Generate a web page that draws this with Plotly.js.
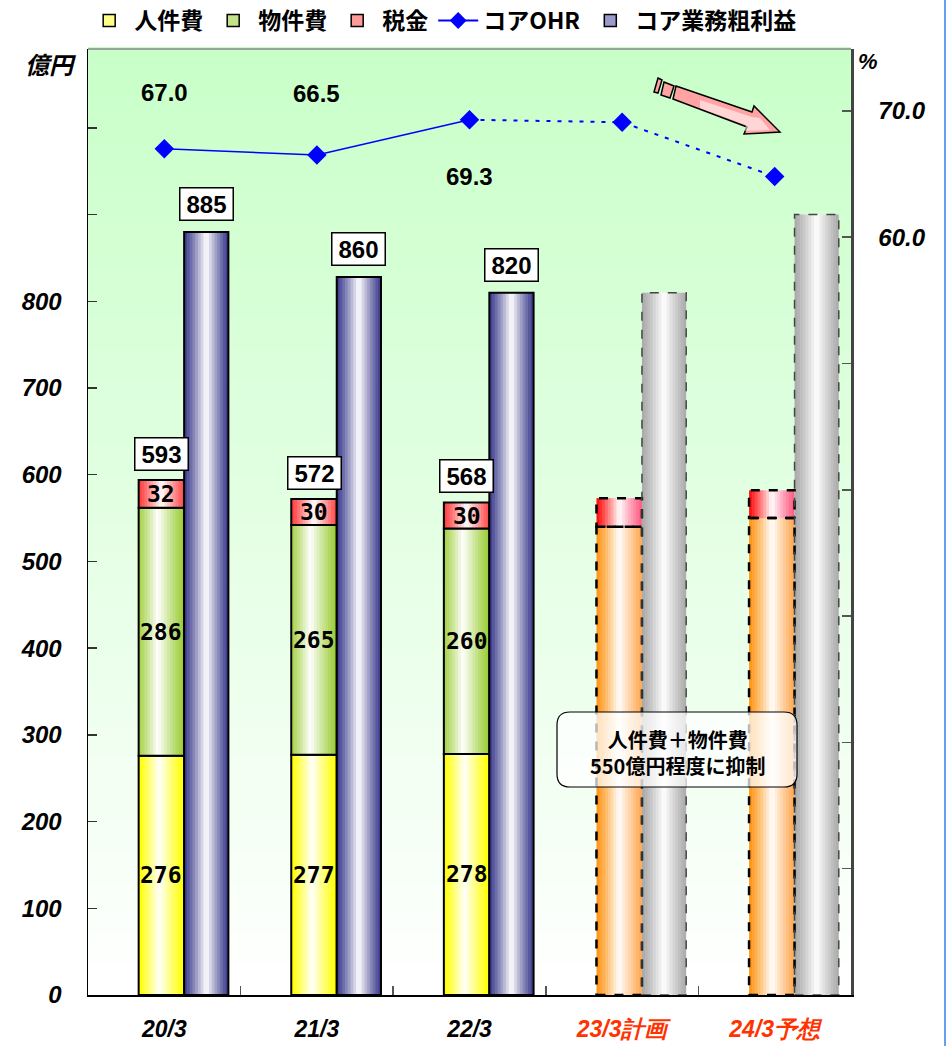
<!DOCTYPE html>
<html>
<head>
<meta charset="utf-8">
<script src="https://cdn.plot.ly/plotly-3.0.1.min.js"></script>
<style>
  html, body { margin: 0; padding: 0; background: #ffffff; }
  #chart { width: 947px; height: 1046px; }
</style>
</head>
<body>
<div id="chart"></div>
<script>
// ---------------- DATA ----------------
const categories = ['20/3', '21/3', '22/3', '23/3計画', '24/3予想'];
const personnel = [276, 277, 278, null, null];          // 人件費
const goods = [286, 265, 260, null, null];              // 物件費
const planCost = [null, null, null, 540, 550];          // 人件費＋物件費 (plan)
const tax = [32, 30, 30, 33, 32];                       // 税金
const totalLabel = [593, 572, 568, null, null];         // 経費合計
const coreGross = [880, 828, 810, 810, 900];            // コア業務粗利益 (bar heights as drawn)
const coreGrossLabel = [885, 860, 820, null, null];     // コア業務粗利益 (labels)
const ohr = [67.0, 66.5, 69.3, 69.1, 64.8];             // コアOHR (%)
const ohrLabel = ['67.0', '66.5', '69.3', null, null];
const leftTickVals = [0, 100, 200, 300, 400, 500, 600, 700, 800, 900, 1000];
const leftTickText = ['0', '100', '200', '300', '400', '500', '600', '700', '800', '', ''];
const rightTickVals = [0, 10, 20, 30, 40, 50, 60, 70];
const rightTickText = ['', '', '', '', '', '', '60.0', '70.0'];
const noteText = '人件費＋物件費<br>550億円程度に抑制';
const unitLeft = '億円';
const unitRight = '%';

// ---------------- STYLE / LAYOUT HELPERS ----------------
const W = 947, H = 1046;
const M = { l: 88, r: 96, t: 49, b: 51, autoexpand: false };
const plotW = W - M.l - M.r, plotH = H - M.t - M.b;
const px2x = p => (p - M.l) / plotW;
const px2y = p => (H - M.b - p) / plotH;

const LEFT_OFF = -0.168, LEFT_W = 0.298;
const RIGHT_OFF = 0.130, RIGHT_W = 0.290;
const N = 16;

function hex2rgb(h) {
  h = h.replace('#', '');
  return [parseInt(h.substr(0, 2), 16), parseInt(h.substr(2, 2), 16), parseInt(h.substr(4, 2), 16)];
}
function mix(c, w) { // mix colour c with white by weight w
  const a = hex2rgb(c);
  return 'rgb(' + a.map(v => Math.round(v + (255 - v) * w)).join(',') + ')';
}
function sliceColor(left, right, tc, t) {
  let u, edge;
  if (t < tc) { edge = left; u = (tc - t) / tc; } else { edge = right; u = (t - tc) / (1 - tc); }
  const w = Math.pow(Math.max(0, 1 - u), 1.15);
  return mix(edge, w);
}

const traces = [];
function gradientBars(vals, base, leftCols, rightCols, tc, off, wid) {
  for (let i = 0; i < N; i++) {
    const t = (i + 0.5) / N;
    traces.push({
      type: 'bar', x: categories, y: vals, base: base,
      offset: off + i * wid / N,
      width: i < N - 1 ? wid / N * 1.3 : wid / N,
      marker: { color: categories.map((c, k) => sliceColor(leftCols[k], rightCols[k], tc, t)), line: { width: 0 } },
      showlegend: false, hoverinfo: 'skip'
    });
  }
}
function outline(vals, base, off, wid, lineCols) {
  traces.push({
    type: 'bar', x: categories, y: vals, base: base, offset: off, width: wid,
    marker: { color: 'rgba(0,0,0,0)', line: { color: lineCols, width: 2 } },
    showlegend: false, hoverinfo: 'skip'
  });
}

const goodsBase = personnel;
const taxBase = categories.map((c, i) => personnel[i] != null ? personnel[i] + goods[i] : planCost[i]);
const pastLine = categories.map((c, i) => personnel[i] != null ? '#000000' : 'rgba(0,0,0,0)');

// 人件費
gradientBars(personnel, null, categories.map(() => '#ffff00'), categories.map(() => '#ffff00'), 0.45, LEFT_OFF, LEFT_W);
outline(personnel, null, LEFT_OFF, LEFT_W, pastLine);
// 物件費
gradientBars(goods, goodsBase, categories.map(() => '#a6d24a'), categories.map(() => '#99cc33'), 0.42, LEFT_OFF, LEFT_W);
outline(goods, goodsBase, LEFT_OFF, LEFT_W, pastLine);
// plan 人件費＋物件費
gradientBars(planCost, null, categories.map(() => '#ff9412'), categories.map(() => '#ffa852'), 0.5, LEFT_OFF, LEFT_W);
// 税金
gradientBars(tax, taxBase, categories.map((c, i) => i < 3 ? '#ff3a3a' : '#ff0a0a'), categories.map((c, i) => i < 3 ? '#ff4a4a' : '#ff5a80'), 0.5, LEFT_OFF, LEFT_W);
outline(tax, taxBase, LEFT_OFF, LEFT_W, pastLine);
// コア業務粗利益
gradientBars(coreGross, null, categories.map((c, i) => i < 3 ? '#3a3a8c' : '#a8a8a8'), categories.map((c, i) => i < 3 ? '#3a3a8c' : '#aaaaaa'), 0.5, RIGHT_OFF, RIGHT_W);
outline(coreGross, null, RIGHT_OFF, RIGHT_W, pastLine);

// OHR line
const actualIdx = [0, 1, 2], planIdx = [2, 3, 4];
traces.push({
  type: 'scatter', mode: 'lines', x: planIdx.map(i => categories[i]), y: planIdx.map(i => ohr[i]), yaxis: 'y2',
  line: { color: '#0000ff', width: 2, dash: '4px,7px' }, showlegend: false, hoverinfo: 'skip'
});
traces.push({
  type: 'scatter', mode: 'lines', x: actualIdx.map(i => categories[i]), y: actualIdx.map(i => ohr[i]), yaxis: 'y2',
  line: { color: '#0000ff', width: 1.5 }, showlegend: false, hoverinfo: 'skip'
});
traces.push({
  type: 'scatter', mode: 'markers', x: categories, y: ohr, yaxis: 'y2',
  marker: { symbol: 'diamond', size: 15, color: '#0000ff' }, showlegend: false
});

// legend entries
const legendItems = [
  { name: '人件費', color: '#ffff88', rank: 1 },
  { name: '物件費', color: '#c4e28a', rank: 2 },
  { name: '税金', color: '#ff9a9a', rank: 3 },
  { name: 'コア業務粗利益', color: '#9a9acc', rank: 5 }
];
legendItems.forEach(it => traces.push({
  type: 'bar', x: [null], y: [null], name: it.name, legendrank: it.rank,
  marker: { color: it.color, line: { color: '#000', width: 1.5 } }
}));
traces.push({
  type: 'scatter', mode: 'lines+markers', x: [null], y: [null], yaxis: 'y2', name: 'コアOHR', legendrank: 4,
  line: { color: '#0000ff', width: 2 }, marker: { symbol: 'diamond', size: 13, color: '#0000ff' }
});

// ---------------- SHAPES ----------------
const shapes = [];
const STRIPS = 60;
for (let s = 0; s < STRIPS; s++) {
  const whiteW = 1 - (s + 0.5) / STRIPS; // s=0 bottom -> nearly white
  shapes.push({
    type: 'rect', xref: 'paper', yref: 'paper', x0: 0, x1: 1,
    y0: s / STRIPS, y1: (s + 1) / STRIPS + 0.002, layer: 'below',
    line: { width: 0 }, fillcolor: mix('#c8ffc8', whiteW)
  });
}
// top border
shapes.push({ type: 'line', xref: 'paper', yref: 'paper', x0: 0, x1: 1, y0: 1, y1: 1, line: { color: '#888', width: 1.5 } });
// right figure edge line
shapes.push({ type: 'line', xref: 'paper', yref: 'paper', x0: px2x(945), x1: px2x(945), y0: px2y(0), y1: px2y(H), line: { color: '#6a9cf0', width: 2 } });

// plan dashed outlines
categories.forEach((c, i) => {
  if (planCost[i] == null) return;
  shapes.push({ type: 'rect', xref: 'x', yref: 'y', x0: i + LEFT_OFF, x1: i + LEFT_OFF + LEFT_W, y0: 0, y1: planCost[i],
    line: { color: '#000', width: 2.5, dash: 'dash' } });
  shapes.push({ type: 'rect', xref: 'x', yref: 'y', x0: i + LEFT_OFF, x1: i + LEFT_OFF + LEFT_W, y0: planCost[i], y1: planCost[i] + tax[i],
    line: { color: '#000', width: 2.5, dash: 'dash' } });
  shapes.push({ type: 'rect', xref: 'x', yref: 'y', x0: i + RIGHT_OFF, x1: i + RIGHT_OFF + RIGHT_W, y0: 0, y1: coreGross[i],
    line: { color: '#444', width: 1.5, dash: 'dash' } });
});

// rounded note box
(function () {
  const x0 = px2x(557), x1 = px2x(797), y0 = px2y(787), y1 = px2y(712);
  const rx = 13 / plotW, ry = 13 / plotH;
  const p = `M ${x0 + rx},${y1} L ${x1 - rx},${y1} Q ${x1},${y1} ${x1},${y1 - ry} L ${x1},${y0 + ry} Q ${x1},${y0} ${x1 - rx},${y0} ` +
            `L ${x0 + rx},${y0} Q ${x0},${y0} ${x0},${y0 + ry} L ${x0},${y1 - ry} Q ${x0},${y1} ${x0 + rx},${y1} Z`;
  shapes.push({ type: 'path', xref: 'paper', yref: 'paper', path: p, fillcolor: 'rgba(255,255,255,0.72)', line: { color: '#000', width: 1.2 } });
})();

// decorative arrow
function poly(pts) {
  return 'M ' + pts.map(p => px2x(p[0]) + ',' + px2y(p[1])).join(' L ') + ' Z';
}
shapes.push({ type: 'path', xref: 'paper', yref: 'paper', fillcolor: '#ffa3a3', line: { color: '#000', width: 1.5 },
  path: poly([[676, 86], [752, 112], [754, 106], [780, 132], [744, 134], [747, 127], [673, 99]]) });
shapes.push({ type: 'path', xref: 'paper', yref: 'paper', fillcolor: '#ffa3a3', line: { color: '#000', width: 1.5 },
  path: poly([[664, 82], [674, 86], [670, 98], [661, 95]]) });
shapes.push({ type: 'path', xref: 'paper', yref: 'paper', fillcolor: '#ffa3a3', line: { color: '#000', width: 1.5 },
  path: poly([[658, 78], [662, 80], [658, 93], [654, 92]]) });
// highlight on arrow
shapes.push({ type: 'path', xref: 'paper', yref: 'paper', fillcolor: 'rgba(255,255,255,0.55)', line: { width: 0 },
  path: poly([[700, 100], [752, 117], [760, 118], [770, 130], [745, 131], [746, 125], [700, 108]]) });

// ---------------- ANNOTATIONS ----------------
const annotations = [];
const numFont = { family: 'DejaVu Sans Mono, Liberation Mono, monospace', size: 23, color: '#000', weight: 'bold' };
const boxFont = { family: 'Liberation Sans Narrow, Liberation Sans, Arial, sans-serif', size: 24, color: '#000', weight: 'bold' };
categories.forEach((c, i) => {
  const lx = i + LEFT_OFF + LEFT_W / 2;
  const rxc = i + RIGHT_OFF + RIGHT_W / 2;
  if (personnel[i] != null) {
    annotations.push({ x: lx, y: personnel[i] / 2, xref: 'x', yref: 'y', text: String(personnel[i]), showarrow: false, font: numFont });
    annotations.push({ x: lx, y: personnel[i] + goods[i] / 2, xref: 'x', yref: 'y', text: String(goods[i]), showarrow: false, font: numFont });
    annotations.push({ x: lx, y: taxBase[i] + tax[i] / 2, xref: 'x', yref: 'y', text: String(tax[i]), showarrow: false, font: numFont });
  }
  if (totalLabel[i] != null) {
    annotations.push({ x: lx, y: taxBase[i] + tax[i], xref: 'x', yref: 'y', yshift: 26, text: String(totalLabel[i]), showarrow: false,
      font: boxFont, bgcolor: '#fff', bordercolor: '#000', borderwidth: 1.5, borderpad: 2, width: 48 });
  }
  if (coreGrossLabel[i] != null) {
    annotations.push({ x: rxc, y: coreGross[i], xref: 'x', yref: 'y', yshift: 28, text: String(coreGrossLabel[i]), showarrow: false,
      font: boxFont, bgcolor: '#fff', bordercolor: '#000', borderwidth: 1.5, borderpad: 2, width: 48 });
  }
});
const ohrLabelShift = [56, 62, -57];
categories.forEach((c, i) => {
  if (ohrLabel[i] == null) return;
  annotations.push({ x: i, y: ohr[i], xref: 'x', yref: 'y2', yshift: ohrLabelShift[i], text: ohrLabel[i], showarrow: false,
    font: { family: 'Liberation Sans, Arial, sans-serif', size: 24, color: '#000', weight: 'bold' } });
});
annotations.push({ xref: 'paper', yref: 'paper', x: px2x(50), y: px2y(64), xanchor: 'center', yanchor: 'middle', text: unitLeft, showarrow: false,
  font: { family: 'Noto Sans CJK JP, sans-serif', size: 24, color: '#000', weight: 'bold', style: 'italic' } });
annotations.push({ xref: 'paper', yref: 'paper', x: px2x(868), y: px2y(61), xanchor: 'center', yanchor: 'middle', text: unitRight, showarrow: false,
  font: { family: 'Liberation Sans, Arial, sans-serif', size: 22, color: '#000', weight: 'bold', style: 'italic' } });
annotations.push({ xref: 'paper', yref: 'paper', x: px2x(677), y: px2y(752), xanchor: 'center', yanchor: 'middle', text: noteText, showarrow: false,
  font: { family: 'Noto Sans CJK JP, sans-serif', size: 20, color: '#000', weight: 'bold' } });

// ---------------- LAYOUT ----------------
const tickFont = { family: 'Liberation Sans, Arial, sans-serif', size: 24, color: '#000', weight: 'bold', style: 'italic' };
const layout = {
  width: W, height: H, autosize: false,
  margin: M,
  paper_bgcolor: '#ffffff', plot_bgcolor: 'rgba(0,0,0,0)',
  barmode: 'overlay',
  showlegend: true,
  legend: {
    orientation: 'h', x: -0.005, xanchor: 'left', y: px2y(-1), yanchor: 'top',
    font: { family: 'Noto Sans CJK JP, sans-serif', size: 23, color: '#000', weight: 'bold' },
    traceorder: 'normal', itemwidth: 40, bgcolor: 'rgba(0,0,0,0)', tracegroupgap: 0
  },
  xaxis: {
    type: 'category', range: [-0.5, 4.5], tickvals: categories,
    ticktext: categories.map((c, i) => i < 3 ? c : '<span style="color:#ff3300">' + c + '</span>'),
    ticks: 'inside', tickson: 'boundaries', ticklen: 9, tickcolor: '#555', tickwidth: 1.5,
    showline: true, linecolor: '#000', linewidth: 2, showgrid: false, zeroline: false,
    tickfont: { family: 'Liberation Sans, Arial, sans-serif', size: 23, color: '#000', weight: 'bold', style: 'italic' },
    ticklabelstandoff: 12, fixedrange: true
  },
  yaxis: {
    range: [0, 1091], tickvals: leftTickVals, ticktext: leftTickText,
    ticks: 'inside', ticklen: 9, tickcolor: '#333', tickwidth: 1.5,
    showline: true, linecolor: '#000', linewidth: 1.5, showgrid: false, zeroline: false,
    tickfont: tickFont, ticklabelstandoff: 20, fixedrange: true
  },
  yaxis2: {
    overlaying: 'y', side: 'right', range: [0, 74.9], tickvals: rightTickVals, ticktext: rightTickText,
    ticks: 'inside', ticklen: 9, tickcolor: '#555', tickwidth: 1.5,
    showline: true, linecolor: '#444', linewidth: 2.5, showgrid: false, zeroline: false,
    tickfont: tickFont, ticklabelstandoff: 20, fixedrange: true
  },
  shapes: shapes,
  annotations: annotations
};

Plotly.newPlot('chart', traces, layout, { displayModeBar: false, staticPlot: true });
</script>
</body>
</html>
